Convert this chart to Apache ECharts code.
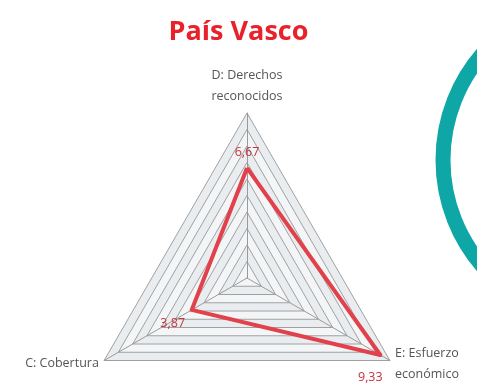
<!DOCTYPE html>
<html>
<head>
<meta charset="utf-8">
<script src="https://cdn.jsdelivr.net/npm/echarts@6/dist/echarts.min.js"></script>
<style>
  html, body { margin: 0; padding: 0; background: #fff; }
  #chart { width: 477px; height: 388px; }
</style>
</head>
<body>
<div id="chart"></div>
<script>
// indicators in drawing order (top, bottom-left, bottom-right)
const indicatorNames = ['D: Derechos\nreconocidos', 'C: Cobertura', 'E: Esfuerzo\neconómico']
const indicatorMax = [10, 10, 10]
const values = [6.67, 3.87, 9.33]
// where each value label sits relative to its point
const labelOffsets = [[0, -16], [-19, 14], [-10, 22]]

const fmt = v => v.toFixed(2).replace('.', ',')

const chart = echarts.init(document.getElementById('chart'))

// one invisible helper item per value so every label can have its own offset
const labelItems = values.map((v, i) => ({
  value: values,
  symbol: 'circle',
  symbolSize: 1,
  itemStyle: { color: 'rgba(0,0,0,0)' },
  lineStyle: { opacity: 0 },
  label: {
    show: true,
    position: 'inside',
    offset: labelOffsets[i],
    color: '#c3343d',
    fontSize: 12.5,
    fontFamily: 'Open Sans',
    formatter: p => (p.value === v ? fmt(v) : '')
  }
}))

const option = {
  animation: false,
  title: {
    text: 'País Vasco',
    left: 'center',
    top: 14,
    textStyle: { color: '#e8212b', fontSize: 27, fontWeight: 'bold', fontFamily: 'Open Sans' }
  },
  radar: {
    center: [247, 278],
    radius: 165,
    startAngle: 90,
    shape: 'polygon',
    splitNumber: 10,
    indicator: indicatorNames.map((n, i) => ({ name: n, max: indicatorMax[i] })),
    axisName: { color: '#555', fontSize: 12.5, fontFamily: 'Open Sans', lineHeight: 21 },
    nameGap: 6,
    axisLine: { lineStyle: { color: '#9a9a9a', width: 1 } },
    splitLine: { lineStyle: { color: '#a0a0a0', width: 1 } },
    splitArea: { areaStyle: { color: ['#f3f5f6', '#e9edef'] } }
  },
  series: [{
    type: 'radar',
    symbol: 'none',
    lineStyle: { color: '#e2404b', width: 4 },
    data: [{ value: values }].concat(labelItems)
  }],
  graphic: [{
    type: 'circle',
    shape: { cx: 605, cy: 160, r: 162 },
    style: { fill: 'none', stroke: '#0fa6a6', lineWidth: 15 },
    z: 10
  }]
}

chart.setOption(option)
</script>
</body>
</html>
